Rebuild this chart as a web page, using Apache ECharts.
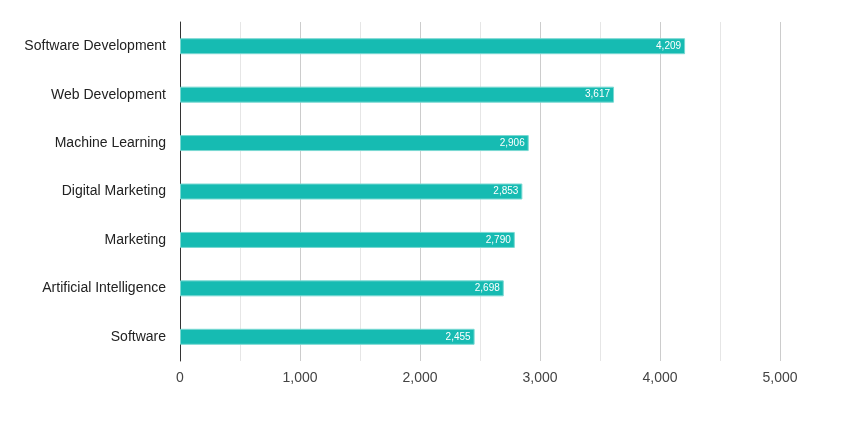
<!DOCTYPE html>
<html>
<head>
    <meta charset="utf-8">
    <title>ECharts</title>
    <script src="https://cdn.jsdelivr.net/npm/echarts@6/dist/echarts.min.js"></script>
    <style>html,body{margin:0;padding:0;background:#fff;}</style>
</head>
<body>
    <div id="main" style="width: 845px;height:422px;"></div>
    <script type="text/javascript">
        var categories = ['Software Development', 'Web Development', 'Machine Learning', 'Digital Marketing',
            'Marketing', 'Artificial Intelligence', 'Software'];
        var jobCounts = [4209, 3617, 2906, 2853, 2790, 2698, 2455];

        var myChart = echarts.init(document.getElementById('main'));
        var option = {
            animation: false,
            textStyle: { fontFamily: 'Liberation Sans, Arial, sans-serif' },
            grid: { left: 180, right: 65, top: 22, bottom: 61 },
            xAxis: {
                type: 'value',
                min: 0,
                max: 5000,
                interval: 1000,
                axisLine: { show: false },
                axisTick: { show: false },
                axisLabel: {
                    color: '#444',
                    fontSize: 14,
                    margin: 10,
                    formatter: function (v) { return v.toLocaleString('en-US'); }
                },
                splitLine: { lineStyle: { color: '#cccccc' } },
                minorTick: { show: false, splitNumber: 2 },
                minorSplitLine: { show: true, lineStyle: { color: '#e6e6e6' } }
            },
            yAxis: {
                type: 'category',
                inverse: true,
                data: categories,
                axisLine: { show: true, lineStyle: { color: '#333', width: 1 } },
                axisTick: { show: false },
                axisLabel: { color: '#222', fontSize: 14, margin: 14 }
            },
            series: [
                {
                    name: 'Jobs',
                    type: 'bar',
                    data: jobCounts,
                    barWidth: 16,
                    itemStyle: {
                        color: '#16bbb2',
                        borderColor: '#7ad9d3',
                        borderWidth: 1
                    },
                    label: {
                        show: true,
                        position: 'insideRight',
                        color: '#fff',
                        fontSize: 10,
                        distance: 4,
                        formatter: function (p) { return p.value.toLocaleString('en-US'); }
                    }
                }
            ]
        };
        myChart.setOption(option);
    </script>
</body>
</html>
